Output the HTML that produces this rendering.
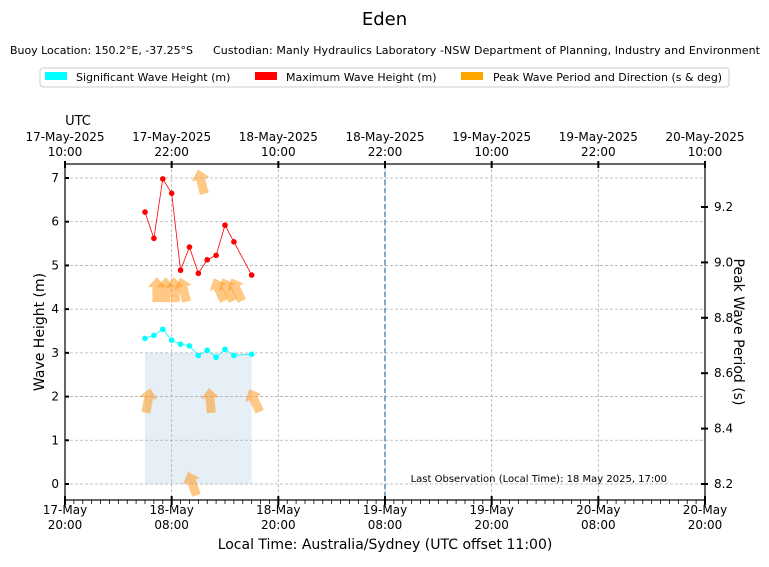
<!DOCTYPE html>
<html><head><meta charset="utf-8"><style>
body{margin:0;background:#fff;font-family:"Liberation Sans","DejaVu Sans",sans-serif}
svg text{font-family:"DejaVu Sans","Liberation Sans",sans-serif}
</style></head><body>
<svg id="c" width="769" height="562" viewBox="0 0 769 562">
<text x="384.5" y="25" font-size="18" text-anchor="middle">Eden</text>
<text x="10" y="54" font-size="11" textLength="183">Buoy Location: 150.2°E, -37.25°S</text>
<text x="213" y="54" font-size="11" textLength="547">Custodian: Manly Hydraulics Laboratory -NSW Department of Planning, Industry and Environment</text>
<g>
<rect x="40" y="68" width="689" height="19" rx="3" fill="#fff" stroke="#ccc"/>
<g><rect x="45" y="72" width="22" height="8" fill="#00ffff"/><text x="76" y="81" font-size="11">Significant Wave Height (m)</text></g>
<g><rect x="255" y="72" width="22" height="8" fill="#ff0000"/><text x="286" y="81" font-size="11">Maximum Wave Height (m)</text></g>
<g><rect x="461" y="72" width="22" height="8" fill="#ffa500"/><text x="493" y="81" font-size="11">Peak Wave Period and Direction (s &amp; deg)</text></g>
</g>
<g id="plot"></g>
</svg>
<script>
const hours = [9,10,11,12,13,14,15,16,17,18,19,21];
const sigWave = [3.33,3.40,3.54,3.29,3.20,3.16,2.94,3.06,2.90,3.08,2.94,2.97];
const maxWave = [6.22,5.62,6.98,6.65,4.89,5.42,4.82,5.13,5.23,5.92,5.54,4.78];
const peakPeriod = [8.5,8.9,8.9,8.9,8.9,8.2,9.29,8.5,8.9,8.9,8.9,8.5];
const peakDir = [190,180,180,175,165,160,165,175,155,155,155,155];
const fillTop = 3.0;
const bottomLabels = [["17-May","20:00"],["18-May","08:00"],["18-May","20:00"],["19-May","08:00"],["19-May","20:00"],["20-May","08:00"],["20-May","20:00"]];
const topLabels = [["17-May-2025","10:00"],["17-May-2025","22:00"],["18-May-2025","10:00"],["18-May-2025","22:00"],["19-May-2025","10:00"],["19-May-2025","22:00"],["20-May-2025","10:00"]];
const leftTicks = [0,1,2,3,4,5,6,7];
const rightTicks = [8.2,8.4,8.6,8.8,9.0,9.2];
const nowHour = 36;

const L=65,R=705,T=164,B=500;
const X=h=>L+h*(R-L)/72;
const Y=v=>484-v*(484-178)/7;
const Y2=v=>484-(v-8.2)*(484-207)/1.0;
const NS="http://www.w3.org/2000/svg";
const g=document.getElementById('plot');
function el(tag,attrs,parent){const e=document.createElementNS(NS,tag);for(const k in attrs)e.setAttribute(k,attrs[k]);(parent||g).appendChild(e);return e;}
function txt(x,y,s,size,anchor,parent){const t=el('text',{x:x,y:y,'font-size':size,'text-anchor':anchor},parent);t.textContent=s;return t;}

let f=el('rect',{x:X(hours[0]),y:Y(fillTop),width:X(hours[hours.length-1])-X(hours[0]),height:Y(0)-Y(fillTop),fill:'#e6eef6'});


const grid=el('g',{stroke:'#b0b0b0','stroke-dasharray':'3,2','stroke-width':0.8});


leftTicks.forEach(v=>el('line',{x1:L,x2:R,y1:Y(v),y2:Y(v)},grid));
bottomLabels.forEach((l,i)=>{if(i>0&&i<6)el('line',{x1:X(i*12),x2:X(i*12),y1:T,y2:B},grid);});
let nl=el('line',{x1:X(nowHour),x2:X(nowHour),y1:T,y2:B,stroke:'#1f77b4','stroke-dasharray':'5,3','stroke-width':1.2});



const ag=el('g',{});


hours.forEach((h,i)=>{
  const cx=X(h)+3, cy=Y2(peakPeriod[i]);
  const a=el('polygon',{points:'-4.5,12 4.5,12 4.5,-3 9,-3 0,-13 -9,-3 -4.5,-3',fill:'#ff9a1f','fill-opacity':0.55,
    transform:`translate(${cx},${cy}) rotate(${peakDir[i]-180})`},ag);
  
  
});
function series(vals,color,name){
  const sg=el('g',{});
  
  
  el('polyline',{points:hours.map((h,i)=>X(h)+','+Y(vals[i])).join(' '),fill:'none',stroke:color,'stroke-width':0.8},sg);
  hours.forEach((h,i)=>{const c=el('circle',{cx:X(h),cy:Y(vals[i]),r:2.8,fill:color},sg);
    
    });
}
series(maxWave,'#ff0000','max-wave-series');
series(sigWave,'#00ffff','sig-wave-series');

const fr=el('rect',{x:L,y:T,width:R-L,height:B-T,fill:'none',stroke:'#000','stroke-width':1.2});


const ax=el('g',{stroke:'#000'});


for(let h=0;h<=72;h++){const x=X(h);
  if(h%12==0){el('line',{x1:x,x2:x,y1:B-4,y2:B+5,'stroke-width':2},ax);el('line',{x1:x,x2:x,y1:T-3,y2:T+4,'stroke-width':2},ax);}
  else el('line',{x1:x,x2:x,y1:B,y2:B+4,'stroke-width':0.8},ax);}
leftTicks.forEach(v=>el('line',{x1:L,x2:L+4,y1:Y(v),y2:Y(v),'stroke-width':2},ax));
rightTicks.forEach(v=>el('line',{x1:R-4,x2:R+3,y1:Y2(v),y2:Y2(v),'stroke-width':2},ax));
const lb=el('g',{fill:'#000'});


bottomLabels.forEach((l,i)=>{txt(X(i*12),514,l[0],12,'middle',lb);txt(X(i*12),529,l[1],12,'middle',lb);});
topLabels.forEach((l,i)=>{txt(X(i*12),141,l[0],12,'middle',lb);txt(X(i*12),156,l[1],12,'middle',lb);});
leftTicks.forEach(v=>txt(L-6,Y(v)+4,String(v),12,'end',lb));
rightTicks.forEach(v=>txt(R+9,Y2(v)+4,v.toFixed(1),12,'start',lb));
let t;
t=txt(78,125,'UTC',13,'middle');
t=txt(385,549,'Local Time: Australia/Sydney (UTC offset 11:00)',14,'middle');
t=el('text',{x:44,y:332,'font-size':14,'text-anchor':'middle',transform:'rotate(-90 44 332)'});t.textContent='Wave Height (m)';

t=el('text',{x:734,y:332,'font-size':14,'text-anchor':'middle',transform:'rotate(90 734 332)'});t.textContent='Peak Wave Period (s)';

t=txt(667,482,'Last Observation (Local Time): 18 May 2025, 17:00',10,'end');

</script>
</body></html>
